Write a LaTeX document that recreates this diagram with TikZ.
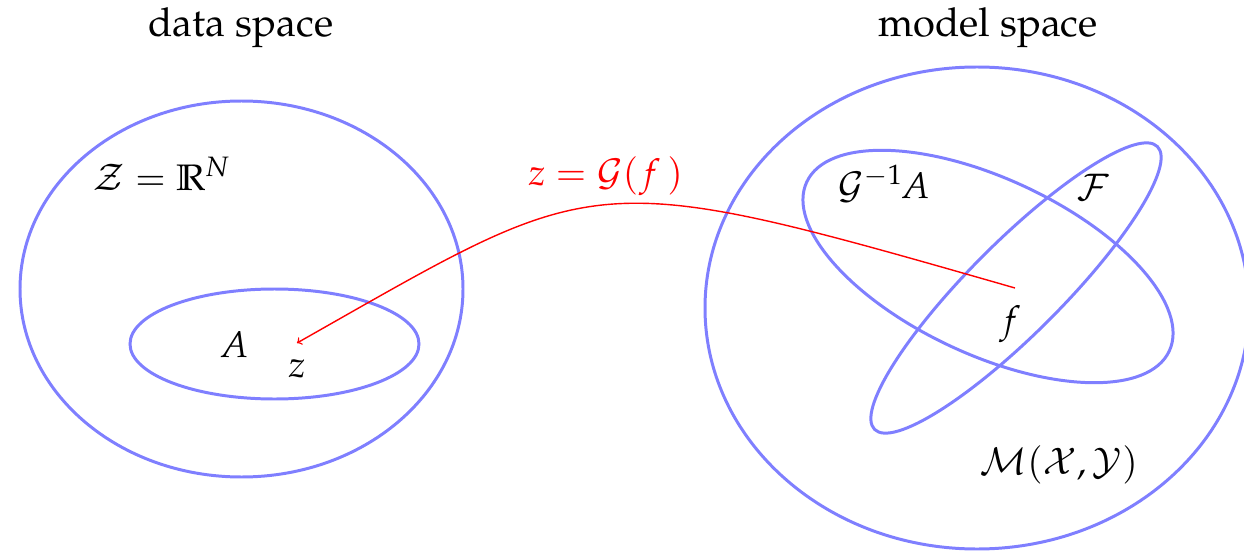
\documentclass[tikz,border=0pt]{standalone}
\usepackage[T1]{fontenc}
\usepackage{mathpazo}
\usepackage{amsmath}
\newcommand{\iv}[1]{\text{\itshape #1}}
\definecolor{setblue}{RGB}{127,127,255}
\begin{document}
\begin{tikzpicture}[x=0.02cm,y=-0.02cm,
  setline/.style={draw=setblue,line width=1.7pt},
  lbl/.style={font=\fontsize{21}{25}\selectfont,inner sep=0pt,anchor=base},
  head/.style={font=\fontsize{22.7}{27}\selectfont,inner sep=0pt,anchor=base},
  maparrow/.style={draw=red,line width=0.8pt,-to}]
\useasboundingbox (0,0) rectangle (1244,554);
% sets
\draw[setline] (241.5,289) ellipse [x radius=221.5, y radius=188];
\draw[setline] (274.5,344) ellipse [x radius=144.5, y radius=55];
\draw[setline] (977,308) ellipse [x radius=272, y radius=241];
\draw[setline,rotate around={-25:(988,266.5)}] (988,266.5) ellipse [x radius=200, y radius=88];
\draw[setline,rotate around={45:(1016,288)}] (1016,288) ellipse [x radius=200, y radius=46];
% labels
\node[head] (data) at (241,37) {data space};
\node[head] (model) at (988,37) {model space};
\node[lbl] (Z) at (161,190) {$\mathcal{Z}=\mathbb{R}^{\iv{N}}$};
\node[lbl,text=red] (map) at (606,185) {$\iv{z}=\mathcal{G}(\,\iv{f}\,\,)$};
\node[lbl] (A) at (235,357) {$\iv{A}$};
\node[lbl] (z) at (297,377) {$\iv{z}$};
\node[lbl] (GA) at (884,198) {$\mathcal{G}^{-1}\iv{A}$};
\node[lbl] (F) at (1093,200) {$\mathcal{F}$};
\node[lbl] (f) at (1010,332) {$\iv{f}$};
\node[lbl] (M) at (1059,474) {$\mathcal{M}(\mathcal{X},\mathcal{Y})$};
% map
\coordinate (fpt) at (1015,288);
\coordinate (zpt) at (297,343);
\draw[maparrow] (fpt) .. controls (583,164) and (601,171) .. (zpt);
\end{tikzpicture}
\end{document}
